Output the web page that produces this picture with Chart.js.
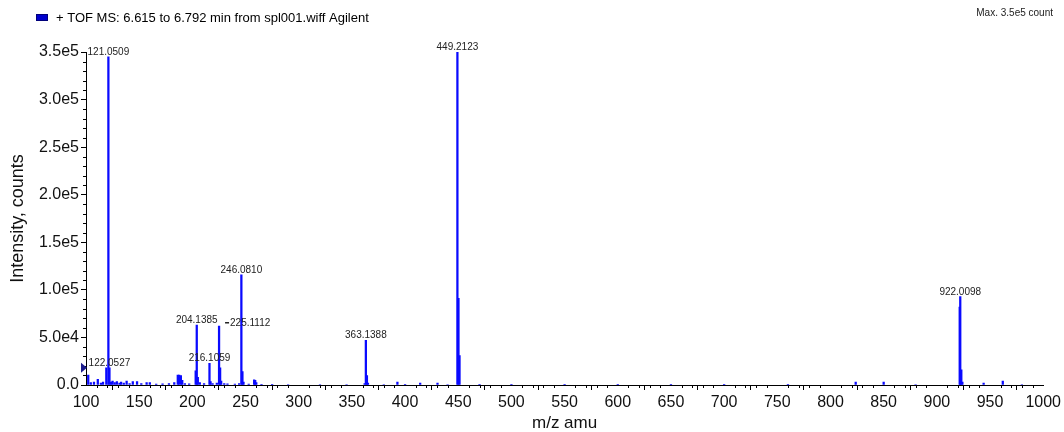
<!DOCTYPE html>
<html><head><meta charset="utf-8">
<script src="https://cdn.jsdelivr.net/npm/chart.js@4.4.1/dist/chart.umd.min.js"></script>
<style>html,body{margin:0;padding:0;background:#fff;}#wrap{width:1064px;height:432px;}</style>
</head><body><div id="wrap"><canvas id="c" width="1064" height="432"></canvas></div>
<script>
// ---------- data ----------
const seriesLabel = '+ TOF MS: 6.615 to 6.792 min from spl001.wiff Agilent';
const maxLabel = 'Max. 3.5e5 count';
const xTitle = 'm/z amu';
const yTitle = 'Intensity, counts';

const mzValues = [
  102.1, 104.5, 107.5, 111.1, 114.0, 116.0, 119.1, 121.0509, 122.0527, 123.5,
  125.0, 127.0, 129.0, 131.5, 133.0, 135.5, 138.2, 141.0, 144.0, 148.0,
  152.0, 157.0, 160.0, 166.0, 172.0, 178.0, 183.0, 186.3, 187.6, 189.2,
  190.5, 193.0, 197.0, 203.13, 204.1385, 205.14, 207.0, 211.0, 216.1059, 217.1,
  219.0, 223.0, 225.1112, 226.11, 227.1, 230.0, 233.0, 240.0, 244.0, 246.0810,
  247.08, 248.1, 253.0, 258.1, 259.1, 260.1, 265.0, 275.0, 290.0, 320.0,
  345.0, 362.0, 363.1388, 364.14, 365.1, 380.0, 392.8, 400.0, 414.2, 430.5,
  440.0, 449.2123, 450.21, 451.2, 470.0, 500.0, 550.0, 600.0, 650.0, 700.0,
  760.0, 823.7, 850.0, 880.0, 921.5, 922.0098, 923.0, 924.0, 944.0, 962.0,
  980.0
];
const intensities = [
  10500, 2500, 3000, 6000, 2000, 3000, 18000, 345000, 18000, 3000,
  4000, 2500, 3500, 2000, 3000, 2000, 4000, 1500, 3500, 3500,
  1500, 2500, 2500, 1000, 1200, 1500, 2500, 10500, 10500, 10000,
  5000, 1500, 1200, 15000, 63000, 8000, 2500, 1500, 22800, 3500,
  1500, 2000, 62000, 18000, 4000, 1500, 1200, 1000, 1500, 115700,
  14000, 3000, 1000, 5500, 5000, 2500, 800, 600, 500, 500,
  500, 1500, 47000, 10000, 2000, 500, 3000, 600, 2000, 2000,
  500, 350000, 91000, 31000, 600, 400, 400, 300, 300, 300,
  400, 3000, 3000, 500, 82000, 93000, 16000, 3000, 2000, 4000,
  500
];
const labeledPeaks = [121.0509, 122.0527, 204.1385, 216.1059, 225.1112, 246.0810, 363.1388, 449.2123, 922.0098];
const thresholdLevel = 18000;
const xRange = [100, 1000];
const yRange = [0, 350000];
const xMajorStep = 50, xMinorStep = 10;
const yMajorStep = 50000, yMinorStep = 10000;

// ---------- helpers ----------
const FONT = '"Liberation Sans", Arial, Helvetica, sans-serif';
const points = mzValues.map((m, i) => ({x: m, y: intensities[i]}));

const headerPlugin = {
  id: 'header',
  afterDraw(chart) {
    const ctx = chart.ctx;
    const ds = chart.data.datasets[0];
    ctx.save();
    ctx.fillStyle = '#0000cc';
    ctx.fillRect(36, 14, 12, 7);
    ctx.strokeStyle = '#00007a';
    ctx.lineWidth = 1;
    ctx.strokeRect(36.5, 14.5, 11, 6);
    ctx.fillStyle = '#000';
    ctx.font = '13px ' + FONT;
    ctx.textBaseline = 'middle';
    ctx.textAlign = 'left';
    ctx.fillText(ds.label, 56, 18);
    ctx.font = '10px ' + FONT;
    ctx.fillStyle = '#222';
    ctx.textAlign = 'right';
    ctx.fillText(maxLabel, 1053, 13);
    ctx.restore();
  }
};

const peakLabelPlugin = {
  id: 'peakLabels',
  afterDraw(chart, args, opts) {
    const ctx = chart.ctx;
    const xs = chart.scales.x, ys = chart.scales.y;
    ctx.save();
    ctx.font = '10px ' + FONT;
    ctx.fillStyle = '#222';
    ctx.textBaseline = 'alphabetic';
    labeledPeaks.forEach(m => {
      const i = mzValues.indexOf(m);
      const px = xs.getPixelForValue(m);
      const py = ys.getPixelForValue(intensities[i]);
      const txt = m.toFixed(4);
      if (opts.rightSide.includes(m)) {
        ctx.fillRect(px + 6, py - 4, 4, 1.5);
        ctx.textAlign = 'left';
        ctx.fillText(txt, px + 11, py);
      } else {
        ctx.textAlign = 'center';
        ctx.fillText(txt, px, py - 2);
      }
    });
    ctx.restore();
  }
};

const minorTickPlugin = {
  id: 'minorTicks',
  afterDraw(chart) {
    const ctx = chart.ctx;
    const xs = chart.scales.x, ys = chart.scales.y;
    const a = chart.chartArea;
    ctx.save();
    ctx.strokeStyle = '#000';
    ctx.lineWidth = 1;
    ctx.beginPath();
    for (let v = xRange[0]; v <= xRange[1]; v += xMinorStep) {
      if (v % xMajorStep === 0) continue;
      const p = Math.round(xs.getPixelForValue(v)) + 0.5;
      ctx.moveTo(p, a.bottom); ctx.lineTo(p, a.bottom + 3);
    }
    for (let v = yRange[0]; v <= yRange[1]; v += yMinorStep) {
      if (v % yMajorStep === 0) continue;
      const p = Math.round(ys.getPixelForValue(v)) + 0.5;
      ctx.moveTo(a.left, p); ctx.lineTo(a.left - 3, p);
    }
    ctx.stroke();
    const ty = ys.getPixelForValue(thresholdLevel);
    ctx.fillStyle = '#1a1a8c';
    ctx.beginPath();
    ctx.moveTo(a.left + 1, ty);
    ctx.lineTo(a.left - 5, ty - 5);
    ctx.lineTo(a.left - 5, ty + 5);
    ctx.closePath();
    ctx.fill();
    ctx.restore();
  }
};

new Chart(document.getElementById('c'), {
  type: 'bar',
  data: {
    datasets: [{
      label: seriesLabel,
      data: points,
      backgroundColor: '#0a0aff',
      borderWidth: 0,
      barThickness: 1.6,
      grouped: false
    }]
  },
  options: {
    responsive: false,
    animation: false,
    devicePixelRatio: 1,
    layout: {padding: {top: 52, right: 20, left: 0, bottom: 0}},
    plugins: {
      legend: {display: false},
      tooltip: {enabled: false},
      peakLabels: {rightSide: [225.1112]}
    },
    scales: {
      x: {
        type: 'linear',
        min: xRange[0], max: xRange[1],
        offset: false,
        afterFit(s) { s.height = 47; },
        grid: {drawOnChartArea: false, drawTicks: true, tickLength: 5, color: '#000'},
        border: {display: true, color: '#000', width: 1},
        ticks: {stepSize: xMajorStep, autoSkip: false, maxRotation: 0, padding: 3,
                color: '#111', font: {family: FONT, size: 16},
                callback: v => String(v)},
        title: {display: true, text: xTitle, color: '#111',
                font: {family: FONT, size: 17, lineHeight: 1}, padding: {top: 0, bottom: 0}}
      },
      y: {
        min: yRange[0], max: yRange[1],
        afterFit(s) { s.width = 86; },
        grid: {drawOnChartArea: false, drawTicks: true, tickLength: 5, color: '#000'},
        border: {display: true, color: '#000', width: 1},
        ticks: {stepSize: yMajorStep, padding: 2, color: '#111', font: {family: FONT, size: 16},
                callback: v => v === 0 ? '0.0' : Number(v).toExponential(1).replace('e+', 'e')},
        title: {display: true, text: yTitle, color: '#111',
                font: {family: FONT, size: 18, lineHeight: 1}, padding: {top: 9, bottom: 0}}
      }
    }
  },
  plugins: [headerPlugin, peakLabelPlugin, minorTickPlugin]
});
</script>
</body></html>
